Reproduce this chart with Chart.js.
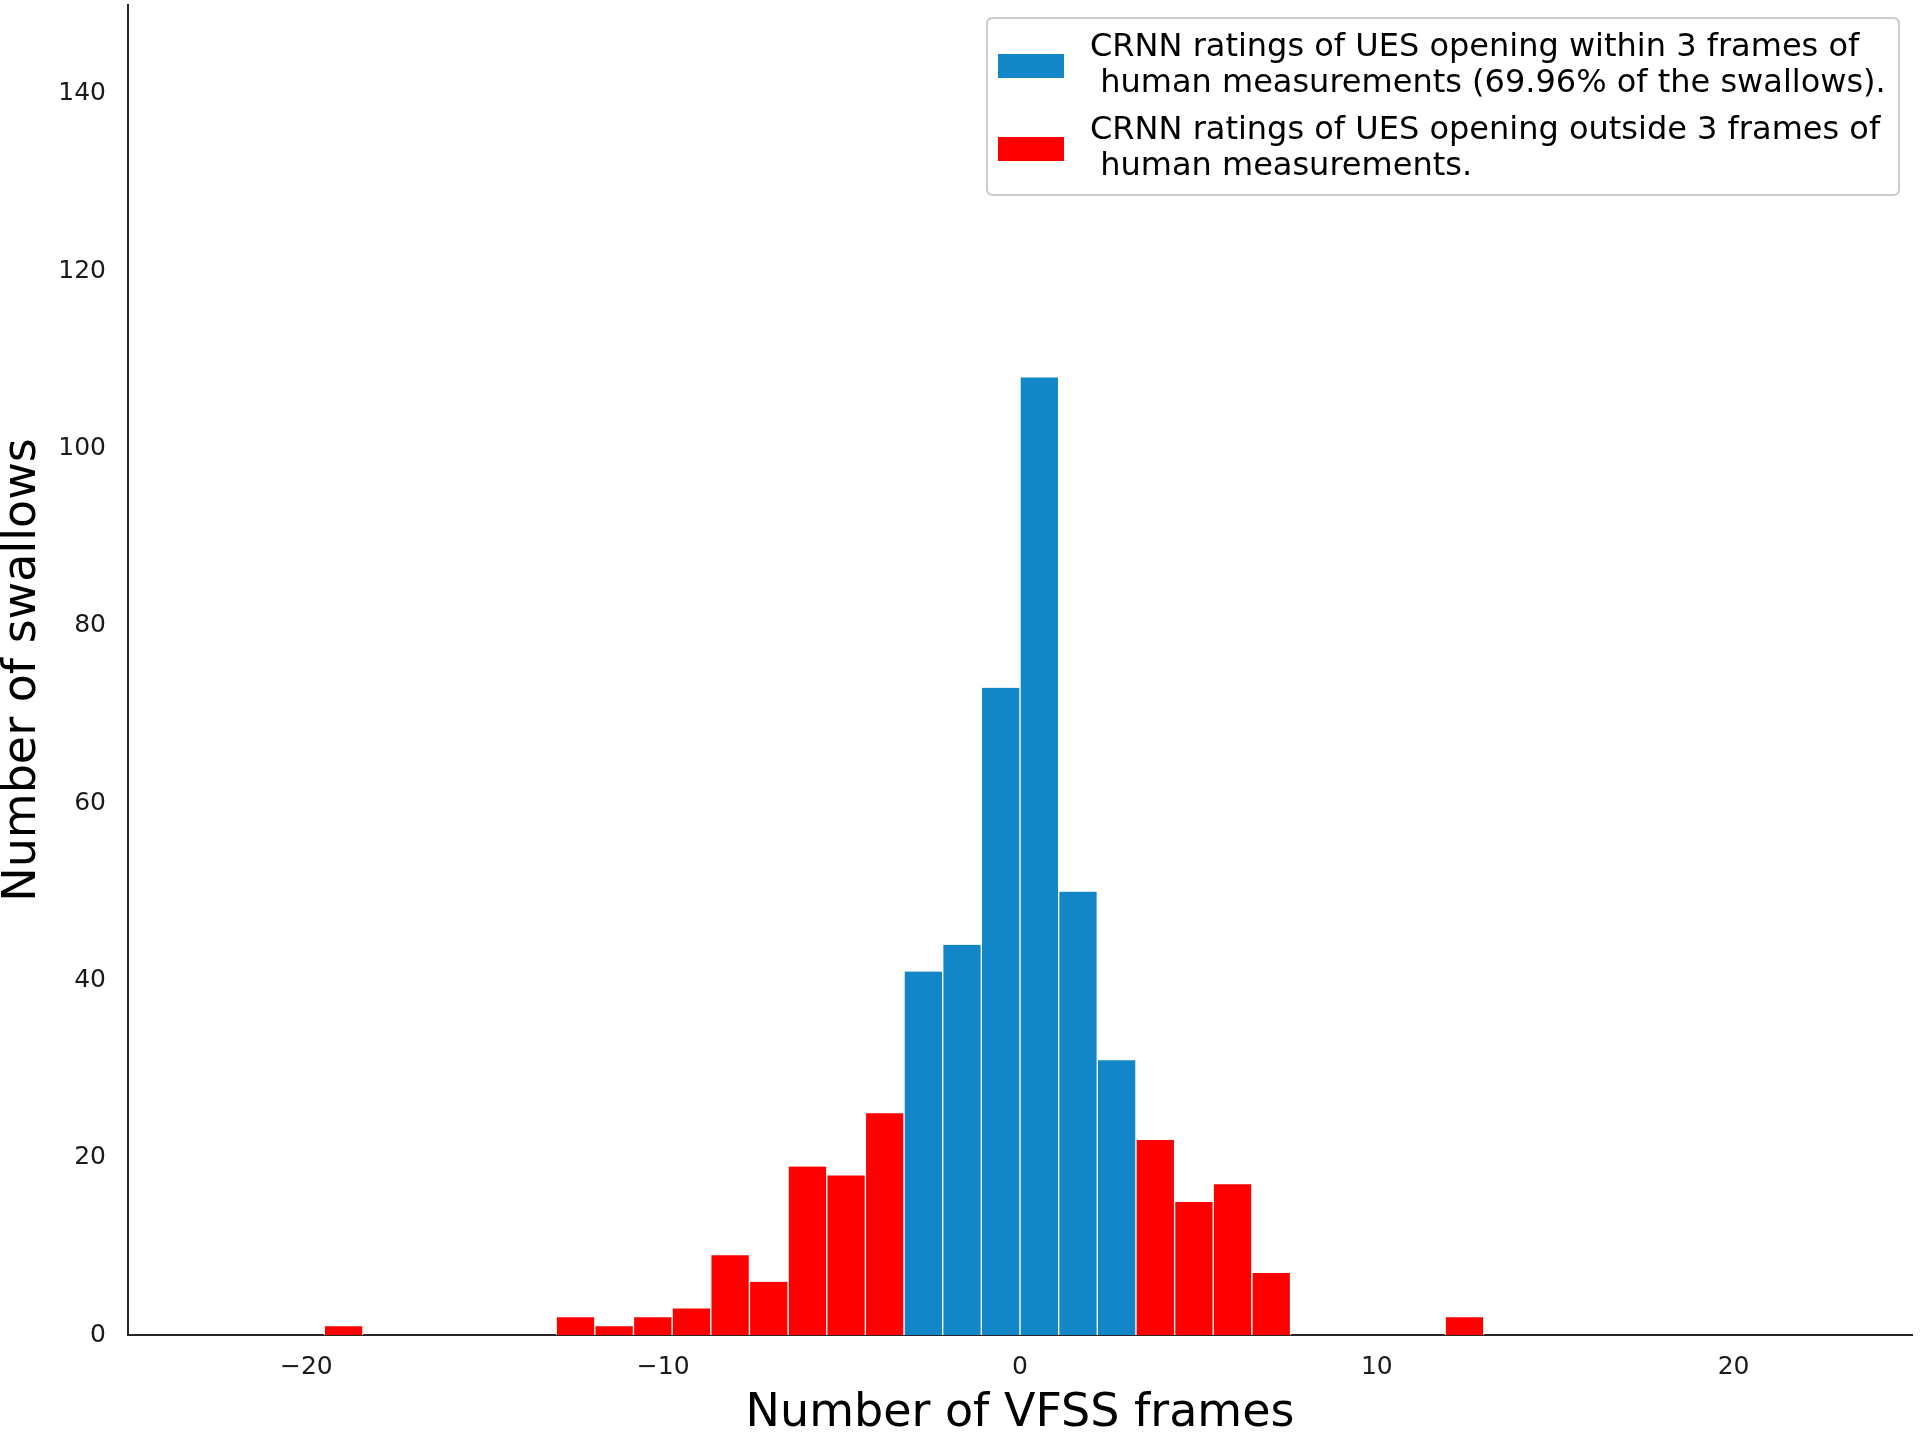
<!DOCTYPE html>
<html>
<head>
<meta charset="utf-8">
<script src="https://cdn.jsdelivr.net/npm/chart.js@4.4.1/dist/chart.umd.min.js"></script>
<style>
html,body{margin:0;padding:0;background:#ffffff;}
#wrap{width:1920px;height:1432px;position:relative;}
</style>
</head>
<body>
<div id="wrap"><canvas id="c" width="1920" height="1432"></canvas></div>
<script>
// Histogram bin centres (frames) and counts
const withinCenters = [-2.708, -1.625, -0.542, 0.542, 1.625, 2.708];
const withinCounts  = [41, 44, 73, 108, 50, 31];
const outsideCenters = [-18.958, -12.458, -11.375, -10.292, -9.208, -8.125, -7.042, -5.958, -4.875, -3.792, 3.792, 4.875, 5.958, 7.042, 12.458];
const outsideCounts  = [1, 2, 1, 2, 3, 9, 6, 19, 18, 25, 22, 15, 17, 7, 2];
const xTickValues = [-20, -10, 0, 10, 20];
const yTickValues = [0, 20, 40, 60, 80, 100, 120, 140];
const withinLabel  = ["CRNN ratings of UES opening within 3 frames of", " human measurements (69.96% of the swallows)."];
const outsideLabel = ["CRNN ratings of UES opening outside 3 frames of", " human measurements."];
const xTitle = "Number of VFSS frames";
const yTitle = "Number of swallows";

const BLUE = '#1386c8';
const RED = '#ff0000';
const FONT = "'DejaVu Sans', sans-serif";

const toPoints = (xs, ys) => xs.map((x, i) => ({x: x, y: ys[i]}));

const boxLegend = {
  id: 'boxLegend',
  afterDatasetsDraw(chart) {
    const ctx = chart.ctx;
    const ca = chart.chartArea;
    const bx = ca.right - 925, by = ca.top + 13, bw = 912, bh = 177, r = 6;
    ctx.save();
    ctx.beginPath();
    ctx.moveTo(bx + r, by);
    ctx.lineTo(bx + bw - r, by); ctx.quadraticCurveTo(bx + bw, by, bx + bw, by + r);
    ctx.lineTo(bx + bw, by + bh - r); ctx.quadraticCurveTo(bx + bw, by + bh, bx + bw - r, by + bh);
    ctx.lineTo(bx + r, by + bh); ctx.quadraticCurveTo(bx, by + bh, bx, by + bh - r);
    ctx.lineTo(bx, by + r); ctx.quadraticCurveTo(bx, by, bx + r, by);
    ctx.closePath();
    ctx.fillStyle = 'rgba(255,255,255,0.85)';
    ctx.fill();
    ctx.lineWidth = 2;
    ctx.strokeStyle = '#cccccc';
    ctx.stroke();
    ctx.font = "32px " + FONT;
    ctx.textBaseline = 'middle';
    ctx.textAlign = 'left';
    chart.data.datasets.forEach((ds, i) => {
      const itemTop = by + 29 + i * 83;
      ctx.fillStyle = ds.backgroundColor;
      ctx.fillRect(bx + 11, itemTop + 7, 66, 24);
      ctx.fillStyle = '#000000';
      ds.label.forEach((line, j) => {
        ctx.fillText(line, bx + 103, itemTop + 1 + j * 36);
      });
    });
    ctx.restore();
  }
};

const chart = new Chart(document.getElementById('c'), {
  type: 'bar',
  data: {
    datasets: [
      { label: withinLabel, data: toPoints(withinCenters, withinCounts), backgroundColor: BLUE,
        borderColor: '#ffffff', borderWidth: {left: 1, right: 1, top: 0, bottom: 0}, borderSkipped: false,
        barPercentage: 1, categoryPercentage: 1 },
      { label: outsideLabel, data: toPoints(outsideCenters, outsideCounts), backgroundColor: RED,
        borderColor: '#ffffff', borderWidth: {left: 1, right: 1, top: 0, bottom: 0}, borderSkipped: false,
        barPercentage: 1, categoryPercentage: 1 }
    ]
  },
  options: {
    responsive: false,
    animation: false,
    devicePixelRatio: 1,
    layout: { padding: { top: 5, right: 8, left: 0, bottom: 0 } },
    plugins: { legend: { display: false }, tooltip: { enabled: false } },
    scales: {
      x: {
        type: 'linear',
        stacked: true,
        offset: false,
        min: -25, max: 25,
        afterFit(scale) { scale.height = 97; scale.paddingLeft = 0; scale.paddingRight = 0; },
        afterBuildTicks(scale) { scale.ticks = xTickValues.map(v => ({value: v})); },
        grid: { display: false, drawTicks: false, tickLength: 0, offset: false },
        border: { display: true, color: '#262626', width: 2 },
        ticks: {
          padding: 17,
          color: '#1a1a1a',
          font: { family: FONT, size: 25 },
          callback: (v) => (v < 0 ? '\u2212' + Math.abs(v) : String(v)),
          maxRotation: 0, autoSkip: false
        },
        title: { display: true, text: xTitle, color: '#000000', font: { family: FONT, size: 46, lineHeight: 0.8 }, padding: { top: 0, bottom: 0 } }
      },
      y: {
        type: 'linear',
        stacked: true,
        min: 0, max: 150,
        afterFit(scale) { scale.width = 128; scale.paddingTop = 0; scale.paddingBottom = 0; },
        afterBuildTicks(scale) { scale.ticks = yTickValues.map(v => ({value: v})); },
        grid: { display: false, drawTicks: false, tickLength: 0 },
        border: { display: true, color: '#262626', width: 2 },
        ticks: {
          padding: 22,
          color: '#1a1a1a',
          font: { family: FONT, size: 25 },
          autoSkip: false
        },
        title: { display: true, text: yTitle, color: '#000000', font: { family: FONT, size: 46, lineHeight: 1 }, padding: { top: 0, bottom: 0 } }
      }
    }
  },
  plugins: [boxLegend]
});
</script>
</body>
</html>
